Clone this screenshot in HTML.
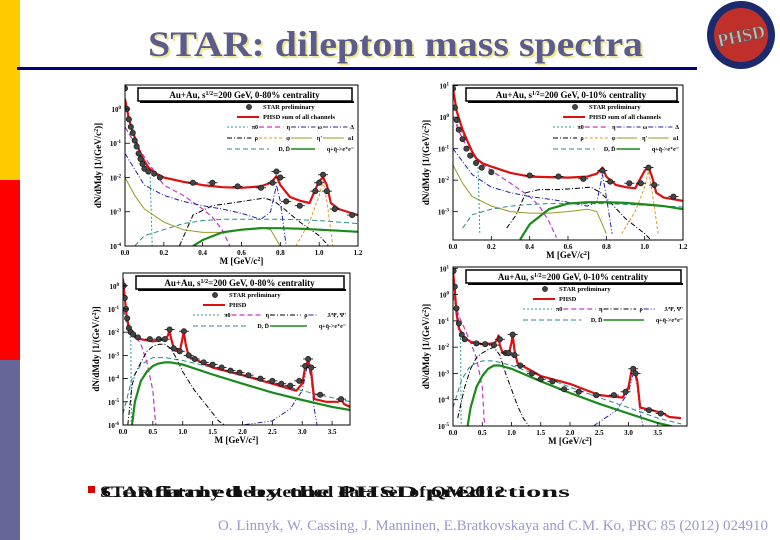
<!DOCTYPE html>
<html><head><meta charset="utf-8"><style>
html,body{margin:0;padding:0;background:#fff;}
svg{display:block;font-family:"Liberation Serif",serif;}
</style></head><body>
<svg id="s" width="780" height="540" viewBox="0 0 780 540">
<rect x="0" y="0" width="20" height="180" fill="#ffcc00"/>
<rect x="0" y="180" width="20" height="180" fill="#ff0000"/>
<rect x="0" y="360" width="20" height="180" fill="#666699"/>
<text x="150" y="58" font-size="36" font-weight="bold" fill="#f0e890" textLength="495" lengthAdjust="spacingAndGlyphs">STAR: dilepton mass spectra</text>
<text x="148" y="56" font-size="36" font-weight="bold" fill="#5c5c8c" textLength="495" lengthAdjust="spacingAndGlyphs">STAR: dilepton mass spectra</text>
<rect x="17" y="67" width="680" height="3" fill="#000080"/>
<g>
<circle cx="741" cy="35" r="34" fill="#1a2a6c"/>
<circle cx="741" cy="35" r="27" fill="#c0302a"/>
<text x="741" y="42" font-size="18" font-weight="bold" fill="#bbb" stroke="#555" stroke-width="0.6" text-anchor="middle" transform="rotate(-12 741 35)">PHSD</text>
</g>
<rect x="88" y="486" width="7" height="7" fill="#dd0000"/>
<text x="100" y="497" font-size="16" font-weight="bold" fill="#111" textLength="405" lengthAdjust="spacingAndGlyphs">STAR data by the extended data set of QM2012</text>
<text x="100" y="497" font-size="16" font-weight="bold" fill="#111" textLength="470" lengthAdjust="spacingAndGlyphs">Confirmed by the PHSD predictions</text>
<text x="218" y="530" font-size="15" fill="#9999cc" textLength="550" lengthAdjust="spacingAndGlyphs">O. Linnyk, W. Cassing, J. Manninen, E.Bratkovskaya and C.M. Ko, PRC  85  (2012) 024910</text>
</svg>
<script>
// ===== Panel TL (0-80%, low mass) =====
const tlPhsdX=[0.0,0.02,0.05,0.08,0.1,0.12,0.15,0.2,0.3,0.4,0.5,0.6,0.7,0.75,0.78,0.8,0.85,0.9,0.95,1.0,1.02,1.04,1.06,1.1,1.2];
const tlPhsdY=[2,0.5,0.15,0.05,0.03,0.02,0.014,0.01,0.0075,0.006,0.0052,0.005,0.0055,0.007,0.011,0.006,0.0027,0.0021,0.0018,0.008,0.01,0.006,0.0018,0.0012,0.0008];
const tlDataX=[0.0,0.01,0.02,0.03,0.04,0.05,0.06,0.07,0.08,0.09,0.1,0.12,0.15,0.18,0.35,0.45,0.58,0.7,0.76,0.78,0.8,0.83,0.9,0.98,1.0,1.02,1.04,1.08,1.17];
const tlDataY=[4,1,0.5,0.3,0.2,0.12,0.08,0.05,0.035,0.025,0.018,0.015,0.013,0.01,0.007,0.007,0.0055,0.005,0.007,0.015,0.01,0.002,0.0015,0.004,0.007,0.012,0.004,0.0012,0.0008];
const tlEtaX=[0,0.05,0.1,0.2,0.3,0.4,0.45,0.5,0.54];
const tlEtaY=[0.3,0.1,0.04,0.006,0.003,0.0012,0.0007,0.0003,0.0001];
const tlPi0X=[0,0.05,0.1,0.13,0.135,0.14];
const tlPi0Y=[0.3,0.1,0.03,0.01,0.001,0.0001];
const tlRhoX=[0.28,0.35,0.45,0.55,0.65,0.72,0.77,0.82,0.9,1.0,1.05];
const tlRhoY=[1e-4,0.0008,0.0015,0.0018,0.0022,0.0025,0.002,0.0012,0.0005,0.0002,0.0001];
const tlOmegaX=[0,0.1,0.2,0.3,0.4,0.5,0.6,0.7,0.75,0.78,0.8,0.83];
const tlOmegaY=[0.05,0.006,0.003,0.002,0.0015,0.0012,0.0009,0.0006,0.001,0.006,0.002,0.0001];
const tlPhiX=[0.88,0.95,1.0,1.02,1.04,1.07];
const tlPhiY=[1e-4,0.0005,0.003,0.008,0.002,1e-4];
const tlEtapX=[0,0.05,0.1,0.2,0.3,0.4,0.5,0.6,0.7,0.75,0.8];
const tlEtapY=[0.01,0.003,0.0012,0.0005,0.0003,0.00025,0.00025,0.0003,0.00035,0.0003,0.0001];
const tlDDX=[0.05,0.1,0.2,0.3,0.4,0.5,0.6,0.7,0.8,0.9,1.0,1.1,1.2];
const tlDDY=[1e-4,0.0002,0.0003,0.00045,0.00055,0.0006,0.0006,0.0006,0.0006,0.00058,0.00055,0.0005,0.00045];
const tlQQX=[0.35,0.4,0.5,0.6,0.7,0.8,0.9,1.0,1.1,1.2];
const tlQQY=[1e-4,0.00015,0.00025,0.0003,0.00033,0.00033,0.00032,0.0003,0.00028,0.00026];

// ===== Panel TR (0-10%, low mass) =====
const trPhsdX=tlPhsdX.slice();
const trPhsdY=[8,1.5,0.4,0.15,0.08,0.05,0.035,0.027,0.017,0.013,0.0125,0.012,0.013,0.016,0.025,0.013,0.007,0.006,0.0055,0.02,0.027,0.012,0.004,0.0028,0.0022];
const trDataX=[0.0,0.01,0.02,0.03,0.05,0.07,0.09,0.12,0.15,0.2,0.4,0.55,0.68,0.78,0.82,0.92,0.98,1.02,1.05,1.15];
const trDataY=[8,2,0.8,0.4,0.2,0.1,0.06,0.035,0.025,0.018,0.014,0.013,0.011,0.02,0.009,0.008,0.008,0.025,0.007,0.003];
const trEtaY=[1,0.2,0.06,0.02,0.008,0.003,0.0015,0.0005,0.00015];
const trPi0Y=[1,0.3,0.08,0.03,0.003,0.0002];
const trRhoX=[0.28,0.33,0.38,0.45,0.55,0.65,0.72,0.77,0.82,0.9,1.0,1.05];
const trRhoY=[0.0003,0.0008,0.004,0.005,0.005,0.0055,0.006,0.004,0.002,0.0006,0.0002,0.0001];
const trOmegaY=[0.1,0.015,0.006,0.004,0.003,0.0025,0.002,0.0015,0.002,0.015,0.003,0.0002];
const trPhiY=[0.0002,0.001,0.006,0.02,0.004,0.0002];
const trEtapY=[0.03,0.008,0.003,0.0015,0.001,0.0009,0.0009,0.001,0.0012,0.001,0.0002];
const trDDY=[0.0003,0.0008,0.0012,0.0015,0.0017,0.0018,0.0018,0.0018,0.0018,0.0017,0.0016,0.0015,0.0014];
const trQQY=[0.00013,0.0004,0.0012,0.0018,0.002,0.002,0.0019,0.0017,0.0015,0.0012];

// ===== Panel BL (0-80%, full mass) =====
const blPhsdX=[0,0.03,0.06,0.1,0.15,0.2,0.3,0.5,0.7,0.75,0.78,0.8,0.85,0.95,1.0,1.02,1.05,1.1,1.5,2.0,2.5,2.9,3.0,3.05,3.1,3.15,3.2,3.4,3.6,3.65,3.7,3.9];
const blPhsdY=[2,0.3,0.05,0.015,0.01,0.006,0.005,0.004,0.005,0.007,0.012,0.006,0.002,0.0015,0.006,0.01,0.003,0.0009,0.0003,0.00014,0.00006,0.00003,0.00006,0.0003,0.0006,0.0002,0.000013,0.00001,0.00001,0.000013,0.000008,0.0000045];
const blDataX=[0.01,0.03,0.05,0.07,0.1,0.13,0.17,0.25,0.45,0.6,0.7,0.78,0.85,0.95,1.02,1.1,1.2,1.35,1.5,1.65,1.8,1.95,2.1,2.3,2.5,2.65,2.8,2.95,3.05,3.1,3.15,3.3,3.65];
const blDataY=[1,0.3,0.1,0.04,0.015,0.01,0.008,0.006,0.005,0.005,0.005,0.013,0.002,0.0015,0.011,0.001,0.0007,0.0005,0.0004,0.0003,0.00022,0.00018,0.00014,0.0001,0.00008,0.00006,0.00005,0.00008,0.00035,0.0007,0.0003,0.00002,0.000013];
const blEtaX=[0,0.1,0.2,0.3,0.4,0.5,0.53,0.55];
const blEtaY=[0.1,0.02,0.008,0.003,0.0005,0.00003,0.000003,0.000001];
const blPi0Y=[0.1,0.03,0.01,0.005,0.00005,0.000001];
const blRhoX=[0.08,0.15,0.2,0.3,0.4,0.5,0.6,0.7,0.8,0.9,1.0,1.2,1.4,1.6,1.7];
const blRhoY=[0.000001,0.00005,0.00015,0.0005,0.0015,0.0025,0.003,0.003,0.002,0.0007,0.0002,0.00003,0.000007,0.0000015,0.000001];
const blJpsiX=[1.6,2.0,2.5,2.8,3.0,3.08,3.1,3.15,3.2,3.25];
const blJpsiY=[0.000001,0.000001,0.0000015,0.000005,0.00003,0.0003,0.0004,0.0001,0.000005,0.000001];
const blDDX=[0.0,0.15,0.3,0.5,0.7,1.0,1.5,2.0,2.5,3.0,3.5,3.9];
const blDDY=[0.000003,0.0001,0.0004,0.0008,0.0008,0.0006,0.0003,0.00015,0.00007,0.00003,0.000015,0.000009];
const blQQX=[0.15,0.2,0.3,0.4,0.5,0.6,0.7,0.8,1.0,1.5,2.0,2.5,3.0,3.5,3.9];
const blQQY=[0.000001,0.00001,0.00008,0.0002,0.00035,0.00045,0.0005,0.0005,0.0004,0.00015,0.00006,0.000025,0.000012,0.000006,0.000004];

// ===== Panel BR (0-10%, full mass) =====
const brPhsdY=[8,1.5,0.2,0.05,0.035,0.022,0.016,0.013,0.014,0.018,0.028,0.012,0.006,0.005,0.015,0.03,0.008,0.0025,0.0008,0.0004,0.00015,0.00012,0.0003,0.0012,0.0016,0.0005,0.00005,0.00004,0.00003,0.000025,0.000022,0.00002];
const brDataX=[0.01,0.03,0.06,0.1,0.15,0.2,0.4,0.55,0.7,0.8,0.9,0.95,1.02,1.05,1.15,1.35,1.5,1.7,1.9,2.15,2.45,2.75,2.95,3.08,3.12,3.35,3.55];
const brDataY=[8,2,0.3,0.08,0.03,0.02,0.014,0.013,0.012,0.02,0.006,0.006,0.03,0.005,0.002,0.001,0.0006,0.0005,0.00025,0.0002,0.00015,0.00015,0.0002,0.0015,0.001,0.00004,0.00003];
const brEtaY=[1,0.15,0.05,0.015,0.004,0.0003,0.00002,0.00001];
const brPi0Y=[1,0.3,0.1,0.02,0.0002,0.00001];
const brRhoX=[0.08,0.15,0.2,0.3,0.4,0.5,0.6,0.7,0.8,0.9,1.0,1.1,1.2,1.3];
const brRhoY=[0.00002,0.0001,0.0003,0.0015,0.004,0.006,0.008,0.01,0.005,0.001,0.00025,0.00006,0.00002,0.00001];
const brJpsiX=[2.4,2.6,2.8,3.0,3.08,3.1,3.15,3.2,3.25];
const brJpsiY=[0.00001,0.00002,0.00004,0.0002,0.001,0.0013,0.0003,0.00003,0.00001];
const brDDY=[0.00005,0.0006,0.002,0.003,0.003,0.002,0.0008,0.0003,0.00012,0.00005,0.00002,0.000012];
const brQQX=[0.25,0.3,0.4,0.5,0.6,0.7,0.8,1.0,1.5,2.0,2.5,3.0,3.5,3.9];
const brQQY=[0.00001,0.00005,0.0003,0.0008,0.0015,0.002,0.002,0.0015,0.0005,0.00018,0.00007,0.00003,0.000013,0.000008];

const lowTicks=[0,0.2,0.4,0.6,0.8,1.0,1.2];
const lowTickLabels=["0.0","0.2","0.4","0.6","0.8","1.0","1.2"];
const highTicks=[0,0.5,1,1.5,2,2.5,3,3.5];
const highTickLabels=["0.0","0.5","1.0","1.5","2.0","2.5","3.0","3.5"];

const NS="http://www.w3.org/2000/svg";
const svg=document.getElementById('s');
function mk(tag,attrs,parent){const e=document.createElementNS(NS,tag);for(const k in attrs)e.setAttribute(k,attrs[k]);(parent||svg).appendChild(e);return e;}

const STY={
 phsd:{stroke:"#dd1010",w:2.2,dash:""},
 qq:{stroke:"#1a8a1a",w:2.2,dash:""},
 dd:{stroke:"#2a8a8a",w:1,dash:"5,3"},
 eta:{stroke:"#cc33cc",w:1.2,dash:"5,3"},
 pi0:{stroke:"#2a9a9a",w:1,dash:"2,2"},
 rho:{stroke:"#000",w:1,dash:"5,2,1,2"},
 omega:{stroke:"#2020aa",w:1,dash:"5,2,1,2"},
 jpsi:{stroke:"#2020aa",w:1,dash:"5,2,1,2,1,2"},
 phi:{stroke:"#dd9922",w:1,dash:"3,2"},
 etap:{stroke:"#999922",w:1,dash:""}
};

function panel(cfg){
 const g=mk('g',{});
 
 
 const sx=v=>cfg.x0+(v-cfg.xmin)/(cfg.xmax-cfg.xmin)*(cfg.x1-cfg.x0);
 const sy=v=>cfg.y1-(Math.log10(v)-cfg.lmin)/(cfg.lmax-cfg.lmin)*(cfg.y1-cfg.y0);
 const cid='clip-'+cfg.name;
 const cp=mk('clipPath',{id:cid},g);
 mk('rect',{x:cfg.x0,y:cfg.y0,width:cfg.x1-cfg.x0,height:cfg.y1-cfg.y0},cp);
 const plot=mk('g',{'clip-path':'url(#'+cid+')'},g);
 cfg.series.forEach(s=>{
  const st=STY[s.kind];
  const d=s.x.map((v,i)=>(i?'L':'M')+sx(v).toFixed(1)+','+sy(s.y[i]).toFixed(1)).join('');
  const p=mk('path',{d:d,fill:'none',stroke:st.stroke,'stroke-width':st.w,'stroke-dasharray':st.dash,'stroke-linejoin':'round'},plot);
  
  
 });
 cfg.dataX.forEach((v,i)=>{
  const cx=sx(v),cy=sy(cfg.dataY[i]);
  if(v>0.3) mk('line',{x1:cx-5,x2:cx+5,y1:cy,y2:cy,stroke:'#000','stroke-width':0.8},plot);
  const c=mk('circle',{cx:cx,cy:cy,r:2.7,fill:'#444',stroke:'#111','stroke-width':0.6},plot);
  
  
 });
 const fr=mk('rect',{x:cfg.x0,y:cfg.y0,width:cfg.x1-cfg.x0,height:cfg.y1-cfg.y0,fill:'none',stroke:'#000','stroke-width':1},g);
 
 
 cfg.ticks.forEach((t,i)=>{
  mk('line',{x1:sx(t),x2:sx(t),y1:cfg.y1,y2:cfg.y1-4,stroke:'#000','stroke-width':0.8},g);
  const tl=mk('text',{x:sx(t),y:cfg.y1+9,'font-size':7,'font-weight':'bold','text-anchor':'middle'},g);
  tl.textContent=cfg.tickLabels[i];
  
  
 });
 for(let e=Math.ceil(cfg.lmin);e<=Math.floor(cfg.lmax);e++){
  const y=sy(Math.pow(10,e));
  mk('line',{x1:cfg.x0,x2:cfg.x0+5,y1:y,y2:y,stroke:'#000','stroke-width':0.8},g);
  const yl=mk('text',{x:cfg.x0-4,y:y+3,'font-size':7,'font-weight':'bold','text-anchor':'end'},g);
  yl.innerHTML='10<tspan dy="-3" font-size="5">'+e+'</tspan>';
  
  
 }
 const xt=mk('text',{x:(cfg.x0+cfg.x1)/2,y:cfg.y1+18,'font-size':9,'font-weight':'bold','text-anchor':'middle'},g);
 xt.innerHTML='M  [GeV/c<tspan dy="-3" font-size="6">2</tspan><tspan dy="3">]</tspan>';
 
 
 const yc=(cfg.y0+cfg.y1)/2, yx=cfg.x0-24;
 const yt=mk('text',{x:yx,y:yc,'font-size':9,'font-weight':'bold','text-anchor':'middle',transform:'rotate(-90 '+yx+' '+yc+')'},g);
 yt.innerHTML='dN/dMdy  [1/(GeV/c<tspan dy="-3" font-size="6">2</tspan><tspan dy="3">)]</tspan>';
 
 
 const hb=mk('rect',{x:cfg.x0+13,y:cfg.y0+3,width:cfg.x1-cfg.x0-19,height:13,fill:'#fff',stroke:'#000','stroke-width':1.5},g);
 
 
 mk('rect',{x:cfg.x0+15,y:cfg.y0+16,width:cfg.x1-cfg.x0-19,height:2,fill:'#000'},g);
 const ht=mk('text',{x:(cfg.x0+cfg.x1)/2+3,y:cfg.y0+13,'font-size':9,'font-weight':'bold','text-anchor':'middle'},g);
 ht.innerHTML='Au+Au,  s<tspan dy="-3" font-size="6">1/2</tspan><tspan dy="3">=200 GeV, '+cfg.cent+' centrality</tspan>';
 
 
 // legend
 const lx=cfg.x0+cfg.legX, ly=cfg.y0+24;
 const lg=mk('g',{'font-size':6.5,'font-weight':'bold'},g);
 
 
 mk('circle',{cx:lx+12,cy:ly-2,r:2.6,fill:'#444',stroke:'#111','stroke-width':0.6},lg);
 mk('text',{x:lx+26,y:ly},lg).textContent='STAR preliminary';
 mk('line',{x1:lx,x2:lx+22,y1:ly+8,y2:ly+8,stroke:'#dd1010','stroke-width':2},lg);
 mk('text',{x:lx+26,y:ly+10},lg).textContent=cfg.phsdLabel;
 const left=lx-10, right=cfg.x1-3;
 cfg.legRows.forEach((row,ri)=>{
  const yy=ly+20+ri*11;
  const w=(right-left)/row.length;
  row.forEach((it,ii)=>{
   const st=STY[it[0]];
   const xs=left+ii*w;
   const lw=it[1].length*3.6+3;
   mk('line',{x1:xs,x2:xs+w-lw-1,y1:yy-2,y2:yy-2,stroke:st.stroke,'stroke-width':Math.min(st.w,1.6),'stroke-dasharray':st.dash},lg);
   mk('text',{x:xs+w-1,y:yy,'font-size':6,'text-anchor':'end'},lg).textContent=it[1];
  });
 });
}

const lowRows=[[["pi0","π0"],["eta","η"],["omega","ω"],["omega","Δ"]],[["rho","ρ"],["phi","φ"],["etap","η'"],["etap","a1"]],[["dd","D, D̄"],["qq","q+q̄->e⁺e⁻"]]];
const highRows=[[["pi0","π0"],["eta","η"],["rho","ρ"],["jpsi","J/Ψ, Ψ'"]],[["dd","D, D̄"],["qq","q+q̄->e⁺e⁻"]]];

panel({name:'panel-top-left',x0:125,x1:358,y0:85,y1:246,xmin:0,xmax:1.2,lmin:-4,lmax:0.7,cent:'0-80%',ticks:lowTicks,tickLabels:lowTickLabels,legX:112,phsdLabel:'PHSD sum of all channels',legRows:lowRows,dataX:tlDataX,dataY:tlDataY,
series:[{kind:'etap',x:tlEtapX,y:tlEtapY},{kind:'dd',x:tlDDX,y:tlDDY},{kind:'eta',x:tlEtaX,y:tlEtaY},{kind:'pi0',x:tlPi0X,y:tlPi0Y},{kind:'rho',x:tlRhoX,y:tlRhoY},{kind:'omega',x:tlOmegaX,y:tlOmegaY},{kind:'phi',x:tlPhiX,y:tlPhiY},{kind:'qq',x:tlQQX,y:tlQQY},{kind:'phsd',x:tlPhsdX,y:tlPhsdY}]});
panel({name:'panel-top-right',x0:453,x1:683,y0:85,y1:240,xmin:0,xmax:1.2,lmin:-3.9,lmax:1.02,cent:'0-10%',ticks:lowTicks,tickLabels:lowTickLabels,legX:110,phsdLabel:'PHSD sum of all channels',legRows:lowRows,dataX:trDataX,dataY:trDataY,
series:[{kind:'etap',x:tlEtapX,y:trEtapY},{kind:'dd',x:tlDDX,y:trDDY},{kind:'eta',x:tlEtaX,y:trEtaY},{kind:'pi0',x:tlPi0X,y:trPi0Y},{kind:'rho',x:trRhoX,y:trRhoY},{kind:'omega',x:tlOmegaX,y:trOmegaY},{kind:'phi',x:tlPhiX,y:trPhiY},{kind:'qq',x:tlQQX,y:trQQY},{kind:'phsd',x:trPhsdX,y:trPhsdY}]});
panel({name:'panel-bottom-left',x0:123,x1:350,y0:273,y1:425,xmin:0,xmax:3.8,lmin:-6,lmax:0.55,cent:'0-80%',ticks:highTicks,tickLabels:highTickLabels,legX:80,phsdLabel:'PHSD',legRows:highRows,dataX:blDataX,dataY:blDataY,
series:[{kind:'dd',x:blDDX,y:blDDY},{kind:'eta',x:blEtaX,y:blEtaY},{kind:'pi0',x:tlPi0X,y:blPi0Y},{kind:'rho',x:blRhoX,y:blRhoY},{kind:'jpsi',x:blJpsiX,y:blJpsiY},{kind:'qq',x:blQQX,y:blQQY},{kind:'phsd',x:blPhsdX,y:blPhsdY}]});
panel({name:'panel-bottom-right',x0:453,x1:687,y0:267,y1:426,xmin:0,xmax:4.0,lmin:-5,lmax:1.05,cent:'0-10%',ticks:highTicks,tickLabels:highTickLabels,legX:80,phsdLabel:'PHSD',legRows:highRows,dataX:brDataX,dataY:brDataY,
series:[{kind:'dd',x:blDDX,y:brDDY},{kind:'eta',x:blEtaX,y:brEtaY},{kind:'pi0',x:tlPi0X,y:brPi0Y},{kind:'rho',x:brRhoX,y:brRhoY},{kind:'jpsi',x:brJpsiX,y:brJpsiY},{kind:'qq',x:brQQX,y:brQQY},{kind:'phsd',x:blPhsdX,y:brPhsdY}]});
</script>
</body></html>
